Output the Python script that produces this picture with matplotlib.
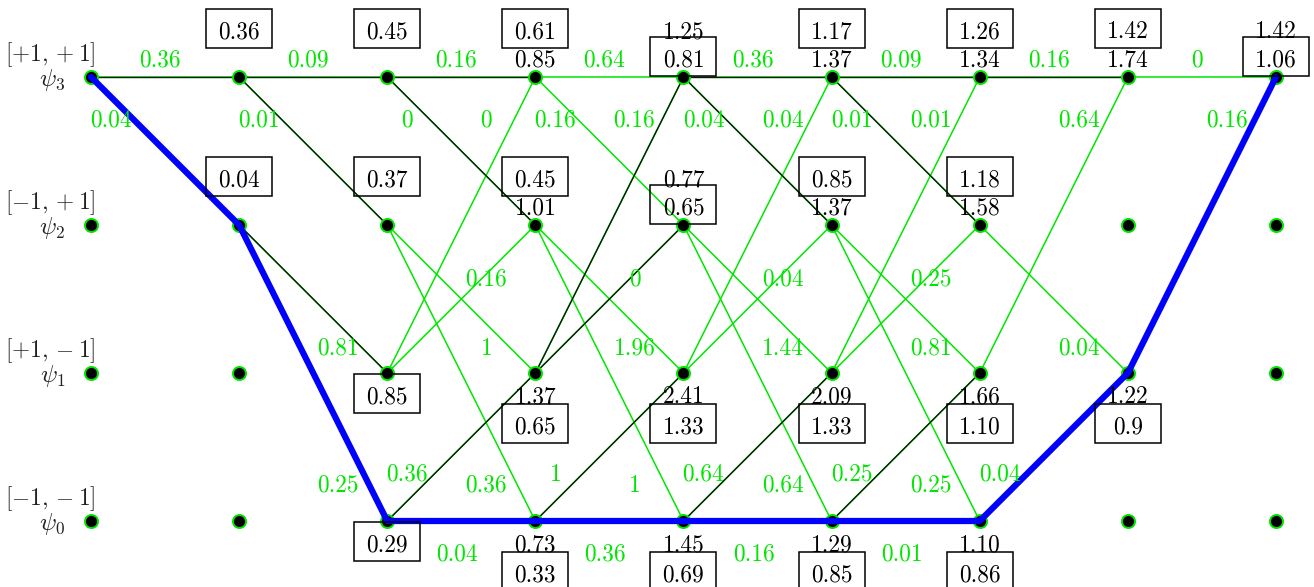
import matplotlib
matplotlib.use("Agg")
import matplotlib.pyplot as plt
from matplotlib.patches import Rectangle

plt.rcParams["font.family"] = "cmr10"
plt.rcParams["mathtext.fontset"] = "cm"

# ---------------------------------------------------------------
# Trellis data (9 time steps, 4 states psi_0..psi_3)
# ---------------------------------------------------------------
n_cols = 9
state_bits = [r"$[-1,-1]$", r"$[+1,-1]$", r"$[-1,+1]$", r"$[+1,+1]$"]
state_names = [r"$\psi_0$", r"$\psi_1$", r"$\psi_2$", r"$\psi_3$"]

# branch metrics per stage (stage s goes from column s to s+1)
w33 = ["0.36", "0.09", "0.16", "0.64", "0.36", "0.09", "0.16", "0"]
w32 = ["0.04", "0.01", "0", "0.16", "0.04", "0.01", None, None]
w21 = [None, "0.81", "1", "1.96", "1.44", "0.81", "0.04", None]
w20 = [None, "0.25", "0.36", "1", "0.64", "0.25", None, None]
w13 = [None, None, "0", "0.16", "0.04", "0.01", "0.64", "0.16"]
w12 = [None, None, "0.16", "0", "0.04", "0.25", None, None]
w01 = [None, None, "0.36", "1", "0.64", "0.25", "0.04", None]
w00 = [None, None, "0.04", "0.36", "0.16", "0.01", None, None]

# path metrics at each node: slot A = via upper predecessor, slot B = via lower one
met3_a = [None, "0.36", "0.45", "0.61", "1.25", "1.17", "1.26", "1.42", "1.42"]
met3_b = [None, None, None, "0.85", "0.81", "1.37", "1.34", "1.74", "1.06"]
met2_a = [None, "0.04", "0.37", "0.45", "0.77", "0.85", "1.18", None, None]
met2_b = [None, None, None, "1.01", "0.65", "1.37", "1.58", None, None]
met1_a = [None, None, "0.85", "1.37", "2.41", "2.09", "1.66", "1.22", None]
met1_b = [None, None, None, "0.65", "1.33", "1.33", "1.10", "0.9", None]
met0_a = [None, None, "0.29", "0.73", "1.45", "1.29", "1.10", None, None]
met0_b = [None, None, None, "0.33", "0.69", "0.85", "0.86", None, None]

best_path = [3, 2, 0, 0, 0, 0, 0, 1, 3]

# ---------------------------------------------------------------
GREEN = "#00e600"
PX = 1 / 148.125   # one pixel in x data units
PY = 1 / 148.0     # one pixel in y data units
FS = 16.8

fig = plt.figure(figsize=(13.14, 5.87), dpi=100)
ax = fig.add_axes([0, 0, 1, 1])
ax.set_xlim(-91 * PX, (1314 - 91) * PX)
ax.set_ylim(-(587 - 521) * PY, 521 * PY)
ax.axis("off")

edges = [
    (3, 3, w33, "mid", -5, 19),
    (3, 2, w32, "start", 20, -41),
    (2, 1, w21, "end", -49, 27),
    (2, 0, w20, "end", -49, 38),
    (1, 3, w13, "end", -49, -41),
    (1, 2, w12, "end", -49, -52),
    (0, 1, w01, "start", 20, 49),
    (0, 0, w00, "mid", -4, -31),
]

metrics = {3: (met3_a, met3_b), 2: (met2_a, met2_b),
           1: (met1_a, met1_b), 0: (met0_a, met0_b)}

# survivors: which incoming edge gives the smaller metric
survivors = set()
boxed = {}
for r, (ma, mb) in metrics.items():
    pred_a, pred_b = (3, 1) if r >= 2 else (2, 0)
    for c in range(1, n_cols):
        a, b = ma[c], mb[c]
        if a is None and b is None:
            continue
        if b is None or (a is not None and float(a) <= float(b)):
            boxed[(r, c)] = "a"
            survivors.add((c - 1, pred_a, r))
        else:
            boxed[(r, c)] = "b"
            survivors.add((c - 1, pred_b, r))

# edges and branch labels
for fr, to, w, anchor, dx, dy in edges:
    for s, lab in enumerate(w):
        if lab is None:
            continue
        ax.plot([s, s + 1], [fr, to], color=GREEN, lw=1.1, zorder=1)
        if (s, fr, to) in survivors:
            ax.plot([s, s + 1], [fr, to], color="#0a1a0a", lw=1.0, zorder=2)
        if anchor == "mid":
            bx, by = s + 0.5, (fr + to) / 2
        elif anchor == "start":
            bx, by = s, fr
        else:
            bx, by = s + 1, to
        ax.text(bx + dx * PX, by + dy * PY, lab, color=GREEN, fontsize=FS,
                ha="center", va="center_baseline", zorder=5)

# nodes
for r in range(4):
    ax.plot(range(n_cols), [r] * n_cols, "o", ls="none", ms=9.4,
            mfc="black", mec=GREEN, mew=1.4, zorder=3)

# best path
ax.plot(range(n_cols), best_path, color="#0000ff", lw=4.5,
        solid_capstyle="round", solid_joinstyle="round", zorder=4)

# path metrics with boxes around the survivor
BW, BH = 66 * PX, 39 * PY
for r, (ma, mb) in metrics.items():
    off_a, off_b = (47.5, 19.5) if r >= 2 else (-21.5, -51.5)
    for c in range(n_cols):
        for slot, vals, off in (("a", ma, off_a), ("b", mb, off_b)):
            v = vals[c]
            if v is None:
                continue
            ty = r + off * PY
            ax.text(c, ty, v, color="black", fontsize=FS, ha="center",
                    va="center_baseline", zorder=6)
            if boxed.get((r, c)) == slot:
                ax.add_patch(Rectangle((c - BW / 2, ty - BH / 2 + 1 * PY), BW, BH,
                                       fill=False, ec="black", lw=1.1, zorder=6))

# state labels
for r in range(4):
    ax.text(4 * PX, r + 22 * PY, state_bits[r], fontsize=FS, ha="right",
            va="center", color="#222222")
    ax.text(-26 * PX, r - 3 * PY, state_names[r], fontsize=FS + 1, ha="right",
            va="center", color="#222222")

fig.savefig("out.png", dpi=100)
